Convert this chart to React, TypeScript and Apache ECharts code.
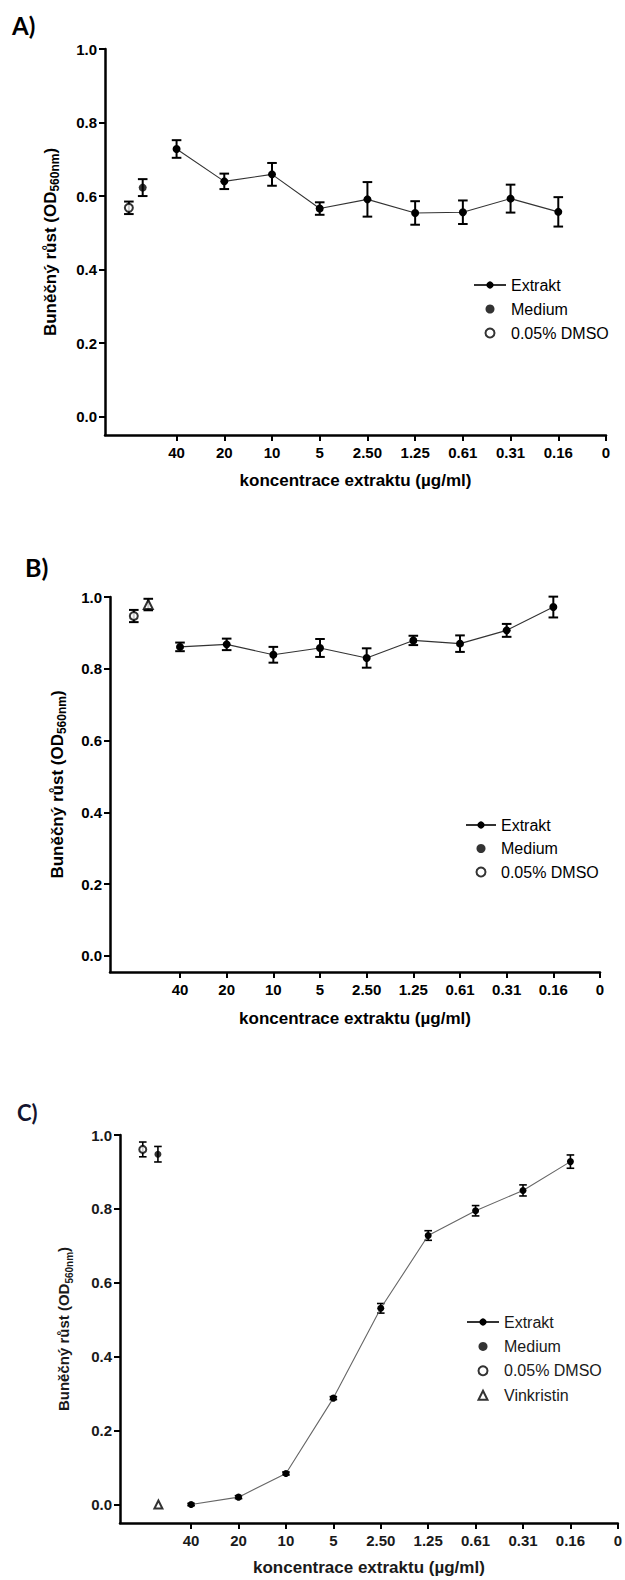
import React, { useEffect, useRef } from "react";
import * as echarts from "echarts";

// ---------- data ----------
const concentrationLabels = ["40", "20", "10", "5", "2.50", "1.25", "0.61", "0.31", "0.16", "0"];
const tickPositions = [1.5, 2.5, 3.5, 4.5, 5.5, 6.5, 7.5, 8.5, 9.5, 10.5];
const extraktPositions = [1.5, 2.5, 3.5, 4.5, 5.5, 6.5, 7.5, 8.5, 9.5];
const yTicks = [0, 0.2, 0.4, 0.6, 0.8, 1.0];

// Panel A
const extraktA = [0.728, 0.640, 0.659, 0.566, 0.591, 0.554, 0.556, 0.593, 0.557];
const extraktErrA = [0.024, 0.021, 0.031, 0.017, 0.047, 0.032, 0.032, 0.038, 0.040];
const controlNamesA = ["0.05% DMSO", "Medium"];
const controlPosA = [0.5, 0.79];
const controlValA = [0.568, 0.623];
const controlErrA = [0.017, 0.023];

// Panel B
const extraktB = [0.861, 0.868, 0.839, 0.858, 0.830, 0.879, 0.870, 0.907, 0.972];
const extraktErrB = [0.012, 0.016, 0.022, 0.025, 0.027, 0.013, 0.023, 0.018, 0.029];
const controlNamesB = ["0.05% DMSO", "Vinkristin"];
const controlPosB = [0.51, 0.82];
const controlValB = [0.947, 0.979];
const controlErrB = [0.017, 0.016];

// Panel C
const extraktC = [0.0, 0.02, 0.084, 0.288, 0.531, 0.728, 0.795, 0.850, 0.928];
const extraktErrC = [0.003, 0.004, 0.004, 0.004, 0.013, 0.013, 0.014, 0.015, 0.018];
const controlNamesC = ["0.05% DMSO", "Medium", "Vinkristin"];
const controlPosC = [0.48, 0.8, 0.81];
const controlValC = [0.961, 0.948, 0.0];
const controlErrC = [0.02, 0.021, 0.0];

const legendA = ["Extrakt", "Medium", "0.05% DMSO"];
const legendB = ["Extrakt", "Medium", "0.05% DMSO"];
const legendC = ["Extrakt", "Medium", "0.05% DMSO"];
const legendCExtra = ["Vinkristin"];

const xTitle = "koncentrace extraktu (µg/ml)";
const yTitle = "Buněčný růst (OD{sub|560nm})";

// ---------- styling / layout ----------
const FONT = '"Liberation Sans", Arial, Helvetica, sans-serif';

const symbolFor: Record<string, string> = {
  Medium: "circle",
  "0.05% DMSO": "emptyCircle",
  Vinkristin: "emptyTriangle",
};

const panels = [
  {
    label: "A)", labelLeft: 12, labelTop: 13, labelSize: 24, labelColor: "#000",
    grid: { left: 105, top: 49, width: 501, height: 386 }, yMin: -0.05,
    ext: extraktA, extErr: extraktErrA,
    cNames: controlNamesA, cPos: controlPosA, cVal: controlValA, cErr: controlErrA,
    legend: legendA, extraLegend: [] as string[], legendLeft: 468, legendTop: 272, legendItemWidth: 32, legendGap: 8,
    yNameGap: 44, xNameGap: 37, lineColor: "#333", errWidth: 2, cap: 4.8, sym: 8,
    textColor: "#000", yNameSize: 17, yNameWeight: "bold",
  },
  {
    label: "B)", labelLeft: 25, labelTop: 554, labelSize: 25, labelColor: "#000",
    grid: { left: 110, top: 597, width: 490, height: 375 }, yMin: -0.045,
    ext: extraktB, extErr: extraktErrB,
    cNames: controlNamesB, cPos: controlPosB, cVal: controlValB, cErr: controlErrB,
    legend: legendB, extraLegend: [] as string[], legendLeft: 460, legendTop: 812, legendItemWidth: 30, legendGap: 7.5,
    yNameGap: 42, xNameGap: 38, lineColor: "#333", errWidth: 2, cap: 4.8, sym: 8,
    textColor: "#000", yNameSize: 17, yNameWeight: "bold",
  },
  {
    label: "C)", labelLeft: 17, labelTop: 1101, labelSize: 22, labelColor: "#14142e",
    grid: { left: 120, top: 1135, width: 499, height: 388 }, yMin: -0.05,
    ext: extraktC, extErr: extraktErrC,
    cNames: controlNamesC, cPos: controlPosC, cVal: controlValC, cErr: controlErrC,
    legend: legendC, extraLegend: legendCExtra, legendLeft: 461, legendTop: 1309, legendItemWidth: 32, legendGap: 8.4,
    yNameGap: 46, xNameGap: 36, lineColor: "#666", errWidth: 1.6, cap: 3.8, sym: 7,
    textColor: "#1a1a1a", yNameSize: 15, yNameWeight: "bold",
  },
];

function errRender(cap: number, lw: number, color: string) {
  return (params: any, api: any) => {
    const x = api.value(0);
    const m = api.value(1);
    const e = api.value(2);
    if (!e) return { type: "group", children: [] };
    const top = api.coord([x, m + e]);
    const bot = api.coord([x, m - e]);
    const style = { stroke: color, lineWidth: lw };
    return {
      type: "group",
      children: [
        { type: "line", shape: { x1: top[0], y1: top[1], x2: bot[0], y2: bot[1] }, style },
        { type: "line", shape: { x1: top[0] - cap, y1: top[1], x2: top[0] + cap, y2: top[1] }, style },
        { type: "line", shape: { x1: bot[0] - cap, y1: bot[1], x2: bot[0] + cap, y2: bot[1] }, style },
      ],
    };
  };
}

function buildOption() {
  const grid: any[] = [];
  const xAxis: any[] = [];
  const yAxis: any[] = [];
  const series: any[] = [];
  const legend: any[] = [];
  const graphic: any[] = [];

  panels.forEach((p, i) => {
    grid.push({ ...p.grid, containLabel: false });
    xAxis.push({
      type: "value", gridIndex: i, min: 0, max: 10.5,
      axisLine: { onZero: false, lineStyle: { color: "#000", width: 2.5 } },
      axisTick: { show: true, customValues: tickPositions, length: 6, lineStyle: { color: "#000", width: 2 } },
      axisLabel: {
        customValues: tickPositions, margin: 10,
        formatter: (v: number) => concentrationLabels[Math.round(v - 1.5)] ?? "",
        color: p.textColor, fontSize: 15, fontWeight: "bold", fontFamily: FONT,
      },
      splitLine: { show: false },
      name: xTitle, nameLocation: "middle", nameGap: p.xNameGap,
      nameTextStyle: { color: p.textColor, fontSize: 17, fontWeight: "bold", fontFamily: FONT },
    });
    yAxis.push({
      type: "value", gridIndex: i, min: p.yMin, max: 1.0,
      axisLine: { show: true, onZero: false, lineStyle: { color: "#000", width: 2.5 } },
      axisTick: { show: true, customValues: yTicks, length: 6, lineStyle: { color: "#000", width: 2 } },
      axisLabel: {
        customValues: yTicks, margin: 8,
        formatter: (v: number) => v.toFixed(1),
        color: p.textColor, fontSize: 15, fontWeight: "bold", fontFamily: FONT,
      },
      splitLine: { show: false },
      name: yTitle, nameLocation: "middle", nameGap: p.yNameGap, nameRotate: 90,
      nameTextStyle: {
        color: p.textColor, fontSize: p.yNameSize, fontWeight: p.yNameWeight, fontFamily: FONT,
        lineHeight: 22,
        rich: {
          sub: {
            fontSize: Math.round(p.yNameSize * 0.68), fontWeight: p.yNameWeight, fontFamily: FONT,
            color: p.textColor, lineHeight: 12, verticalAlign: "bottom",
          },
        },
      },
    });

    // Extrakt line
    series.push({
      name: "Extrakt", type: "line", xAxisIndex: i, yAxisIndex: i, z: 3,
      data: extraktPositions.map((x, k) => [x, p.ext[k]]),
      symbol: "circle", symbolSize: p.sym,
      itemStyle: { color: "#000" },
      lineStyle: { color: p.lineColor, width: 1.1 },
    });
    series.push({
      type: "custom", xAxisIndex: i, yAxisIndex: i, z: 2, silent: true,
      renderItem: errRender(p.cap, p.errWidth, "#000"),
      encode: { x: 0, y: 1 },
      data: extraktPositions.map((x, k) => [x, p.ext[k], p.extErr[k]]),
    });

    // controls
    p.cNames.forEach((name, k) => {
      const sym = symbolFor[name];
      series.push({
        name, type: "scatter", xAxisIndex: i, yAxisIndex: i, z: 3,
        data: [[p.cPos[k], p.cVal[k]]],
        symbol: sym, symbolSize: sym === "emptyTriangle" ? p.sym + 1 : p.sym,
        itemStyle: { color: "#000", borderColor: "#000", borderWidth: sym === "circle" ? 0 : 2 },
      });
    });
    series.push({
      type: "custom", xAxisIndex: i, yAxisIndex: i, z: 2, silent: true,
      renderItem: errRender(p.cap, p.errWidth, "#000"),
      encode: { x: 0, y: 1 },
      data: p.cNames.map((_, k) => [p.cPos[k], p.cVal[k], p.cErr[k]]),
    });

    const textStyle = { color: p.textColor, fontSize: 16, fontFamily: FONT, lineHeight: 16 };
    legend.push({
      data: p.legend, orient: "vertical", left: p.legendLeft, top: p.legendTop,
      itemWidth: p.legendItemWidth, itemHeight: 9, itemGap: p.legendGap,
      selectedMode: false, symbolKeepAspect: true, textStyle,
    });
    if (p.extraLegend.length) {
      // square icon box so the triangle keeps its aspect; text aligned with the items above
      const iconW = 9;
      const iconLeft = p.legendLeft + (p.legendItemWidth - iconW) / 2;
      legend.push({
        data: p.extraLegend, orient: "vertical", left: iconLeft,
        top: p.legendTop + p.legend.length * (16 + p.legendGap),
        itemWidth: iconW, itemHeight: 9, itemGap: p.legendGap,
        selectedMode: false, symbolKeepAspect: true,
        textStyle: { ...textStyle, padding: [0, 0, 0, p.legendLeft + p.legendItemWidth - (iconLeft + iconW)] },
      });
    }

    graphic.push({
      type: "text", left: p.labelLeft, top: p.labelTop,
      style: {
        text: p.label, fill: p.labelColor,
        font: `bold ${p.labelSize}px Lato, "Open Sans", sans-serif`,
      },
    });
  });

  return {
    animation: false,
    backgroundColor: "#fff",
    grid, xAxis, yAxis, series, legend, graphic,
  };
}

export default function App() {
  const ref = useRef<HTMLDivElement>(null);
  useEffect(() => {
    document.body.style.margin = "0";
    if (!ref.current) return;
    const chart = echarts.init(ref.current, undefined, { renderer: "svg" });
    chart.setOption(buildOption() as any);
    return () => chart.dispose();
  }, []);
  return <div ref={ref} style={{ width: 625, height: 1580 }} />;
}
